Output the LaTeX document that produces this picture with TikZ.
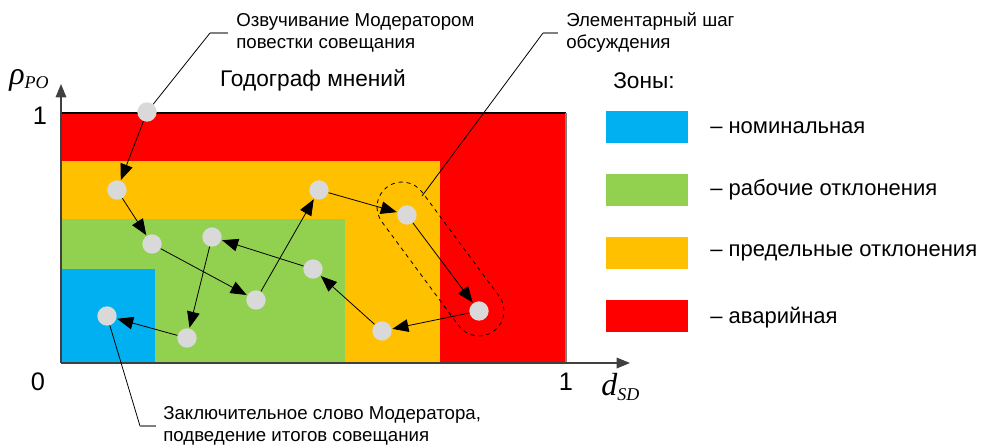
\documentclass[tikz,border=0pt]{standalone}
\usepackage{fontspec}
\setmainfont{Liberation Sans}
\newfontfamily\timesfont{Liberation Serif}
\usetikzlibrary{arrows.meta}
\definecolor{zred}{HTML}{FF0000}
\definecolor{zorange}{HTML}{FFC000}
\definecolor{zgreen}{HTML}{92D050}
\definecolor{zblue}{HTML}{00B0F0}
\definecolor{ptgray}{HTML}{D9D9D9}
\definecolor{axgray}{HTML}{404040}
\begin{document}
\begin{tikzpicture}[x=0.75pt,y=-0.75pt,
  pt/.style={circle,fill=ptgray,minimum size=14.5pt,inner sep=0pt},
  arr/.style={-{Triangle[length=12pt,width=9.5pt]},line width=0.6pt,shorten >=0.5pt},
  axis/.style={-{Triangle[length=10pt,width=8pt]},line width=0.9pt,draw=axgray},
  lead/.style={line width=0.6pt},
  leadh/.style={line width=0.9pt,draw=gray},
  callout/.style={anchor=west,align=left,font=\fontsize{14}{16.5}\selectfont,inner sep=0pt},
  legbox/.style={minimum width=61.5pt,minimum height=24pt,inner sep=0pt},
  legtext/.style={anchor=west,font=\fontsize{16.5}{18}\selectfont,inner sep=0pt},
  big/.style={font=\fontsize{17}{19}\selectfont,inner sep=0pt}]
\useasboundingbox (0,0) rectangle (982,444);
% zones
\fill[zred] (61,113) rectangle (566,363);
\fill[zorange] (61,161) rectangle (440,363);
\fill[zgreen] (61,219) rectangle (345,363);
\fill[zblue] (61,269) rectangle (155,363);
\draw[line width=0.9pt] (61,113) -- (566,113);
\draw[line width=0.9pt,draw=gray] (566,113) -- (566,363);
% axes
\coordinate (orig) at (61,363);
\coordinate (ytip) at (61,84);
\coordinate (xtip) at (630,363);
\draw[axis] (orig) -- (ytip);
\draw[axis] (orig) -- (xtip);
\node[big,font=\fontsize{19}{20}\selectfont] (one-y) at (40,116) {1};
\node[big,font=\fontsize{19}{20}\selectfont] (zero) at (38,382) {0};
\node[big,font=\fontsize{19}{20}\selectfont] (one-x) at (566,382) {1};
\node[inner sep=0pt,anchor=base west] (rho) at (9,84) {\timesfont\itshape\fontsize{24}{24}\selectfont ρ\raisebox{-3pt}{\fontsize{13.5}{13.5}\selectfont PO}};
\node[inner sep=0pt,anchor=base west] (dsd) at (601,395) {\timesfont\itshape\fontsize{24}{24}\selectfont d\raisebox{-4pt}{\fontsize{13.5}{13.5}\selectfont SD}};
% titles
\node[big] (title) at (313,80) {Годограф мнений};
\node[big] (zones) at (644,81) {Зоны:};
% legend
\node[legbox,fill=zblue] (lb1) at (647,127) {};
\node[legbox,fill=zgreen] (lb2) at (647,190) {};
\node[legbox,fill=zorange] (lb3) at (647,253) {};
\node[legbox,fill=zred] (lb4) at (647,316) {};
\node[legtext] (lt1) at (710,128) {– номинальная};
\node[legtext] (lt2) at (710,190) {– рабочие отклонения};
\node[legtext] (lt3) at (710,253) {– предельные отклонения};
\node[legtext] (lt4) at (710,318) {– аварийная};
% elementary step outline
\node[draw,dashed,line width=0.6pt,rectangle,rounded corners=18.75pt,minimum width=134.5pt,minimum height=37.5pt,rotate=-53.5] (stepzone) at (440.5,259) {};
% points
\node[pt] (p1) at (147,112) {};
\node[pt] (p2) at (117,190) {};
\node[pt] (p3) at (152,244) {};
\node[pt] (p4) at (256,300) {};
\node[pt] (p5) at (319,190) {};
\node[pt] (p6) at (407,215) {};
\node[pt] (p7) at (479,311) {};
\node[pt] (p8) at (382,331) {};
\node[pt] (p9) at (313,269) {};
\node[pt] (p10) at (212,237) {};
\node[pt] (p11) at (187,338) {};
\node[pt] (p12) at (107,316) {};
% trajectory
\draw[arr] (p1) -- (p2);
\draw[arr] (p2) -- (p3);
\draw[arr] (p3) -- (p4);
\draw[arr] (p4) -- (p5);
\draw[arr] (p5) -- (p6);
\draw[arr] (p6) -- (p7);
\draw[arr] (p7) -- (p8);
\draw[arr] (p8) -- (p9);
\draw[arr] (p9) -- (p10);
\draw[arr] (p10) -- (p11);
\draw[arr] (p11) -- (p12);
% callouts
\coordinate (c1a) at (210,33);
\coordinate (c1b) at (228,33);
\draw[lead] (p1) -- (c1a);
\draw[leadh] (c1a) -- (c1b);
\node[callout] (t1) at (236,33) {Озвучивание Модератором\\повестки совещания};
\coordinate (c2s) at (422,196);
\coordinate (c2a) at (543,33);
\coordinate (c2b) at (558,33);
\draw[lead] (c2s) -- (c2a);
\draw[leadh] (c2a) -- (c2b);
\node[callout] (t2) at (566,33) {Элементарный шаг\\обсуждения};
\coordinate (c3a) at (140,426);
\coordinate (c3b) at (156,426);
\draw[lead] (p12) -- (c3a);
\draw[leadh] (c3a) -- (c3b);
\node[callout] (t3) at (163,426) {Заключительное слово Модератора,\\подведение итогов совещания};
\end{tikzpicture}
\end{document}
